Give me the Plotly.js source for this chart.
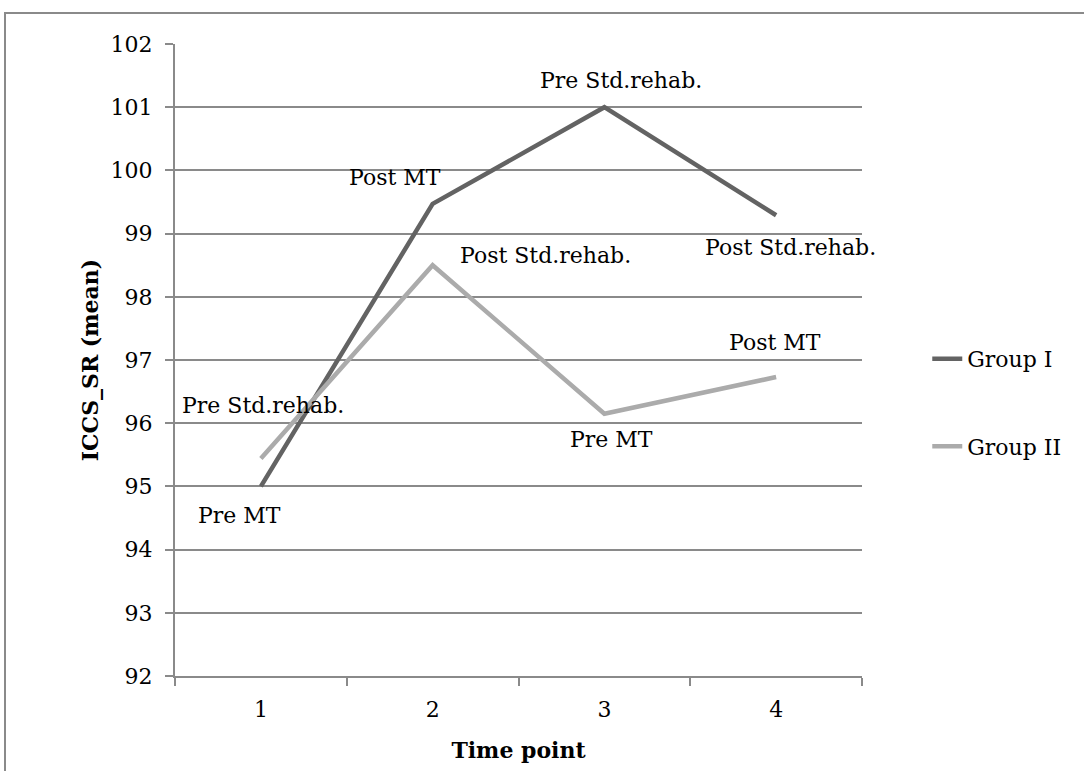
<!DOCTYPE html>
<html>
<head>
<meta charset="utf-8">
<script src="https://cdn.plot.ly/plotly-3.0.1.min.js"></script>
<style>
  html, body { margin: 0; padding: 0; background: #ffffff; overflow: hidden; }
  #wrap { position: relative; width: 1084px; height: 771px; }
  #chart { position: absolute; left: 0; top: 0; width: 1084px; height: 771px; }
  #frame { position: absolute; left: 4px; top: 12px; width: 1200px; height: 900px;
           border-left: 2px solid #8a8a8a; border-top: 2px solid #8a8a8a; pointer-events: none; }
</style>
</head>
<body>
<div id="wrap">
  <div id="chart"></div>
  <div id="frame"></div>
</div>
<script>
// ---- data ----
const timePoints = ['1', '2', '3', '4'];
const groupIName  = 'Group I';
const groupIIName = 'Group II';
const groupI  = [95.0, 99.47, 101.0, 99.29];
const groupII = [95.44, 98.5, 96.15, 96.73];
const groupILabels  = ['Pre MT', 'Post MT', 'Pre Std.rehab.', 'Post Std.rehab.'];
const groupIILabels = ['Pre Std.rehab.', 'Post Std.rehab.', 'Pre MT', 'Post MT'];
const yTitle = 'ICCS_SR (mean)';
const xTitle = 'Time point';

// ---- styling ----
const FONT = 'DejaVu Serif, Liberation Serif, serif';
const FS = 22;
const gridCol = '#8a8a8a';
const col1 = '#636363';
const col2 = '#ababab';

// label pixel offsets (xshift, yshift) per point
const off1 = [[-21, -29], [-38, 26], [17, 27], [14, -32]];
const off2 = [[2, 53], [113, 10], [7, -26], [-1, 35]];

const traces = [
  { type: 'scatter', mode: 'lines', name: groupIName, x: timePoints, y: groupI,
    line: { color: col1, width: 4.5 }, legendgroup: 'g1' },
  { type: 'scatter', mode: 'lines', name: groupIIName, x: timePoints, y: groupII,
    line: { color: col2, width: 4.5 }, legendgroup: 'g2' }
];

// annotations placed on the category axis by category index
const annotations = [];
groupI.forEach((v, i) => annotations.push({
  x: i, y: v, xref: 'x', yref: 'y', text: groupILabels[i], showarrow: false,
  xshift: off1[i][0], yshift: off1[i][1], font: { family: FONT, size: FS, color: '#000' }
}));
groupII.forEach((v, i) => annotations.push({
  x: i, y: v, xref: 'x', yref: 'y', text: groupIILabels[i], showarrow: false,
  xshift: off2[i][0], yshift: off2[i][1], font: { family: FONT, size: FS, color: '#000' }
}));

const layout = {
  width: 1084, height: 771,
  margin: { l: 175, r: 222, t: 44, b: 95, pad: 0 },
  paper_bgcolor: 'rgba(0,0,0,0)', plot_bgcolor: 'rgba(0,0,0,0)',
  font: { family: FONT, size: FS, color: '#000' },
  showlegend: true,
  legend: {
    x: 1.095, y: 0.535, xanchor: 'left', yanchor: 'top',
    traceorder: 'grouped', tracegroupgap: 56,
    font: { family: FONT, size: FS, color: '#000' },
    bgcolor: 'rgba(0,0,0,0)'
  },
  xaxis: {
    type: 'category', range: [-0.5, 3.5], tickson: 'boundaries',
    showgrid: false, zeroline: false,
    showline: true, linecolor: gridCol, linewidth: 2,
    ticks: 'outside', ticklen: 8, tickwidth: 2, tickcolor: gridCol,
    ticklabelstandoff: 13,
    tickfont: { family: FONT, size: FS, color: '#000' },
    automargin: true,
    title: { text: '<b>' + xTitle + '</b>', font: { family: FONT, size: FS, color: '#000' }, standoff: 21 },
    fixedrange: true
  },
  yaxis: {
    range: [92, 102], dtick: 1, tick0: 92,
    showgrid: true, gridcolor: gridCol, gridwidth: 2, zeroline: false,
    showline: true, linecolor: gridCol, linewidth: 2,
    ticks: 'outside', ticklen: 8, tickwidth: 2, tickcolor: gridCol,
    ticklabelstandoff: 8,
    tickfont: { family: FONT, size: FS, color: '#000' },
    automargin: true,
    title: { text: '<b>' + yTitle + '</b>', font: { family: FONT, size: FS, color: '#000' }, standoff: 6 },
    fixedrange: true
  },
  annotations: annotations
};

Plotly.newPlot('chart', traces, layout, { displayModeBar: false, staticPlot: true });
</script>
</body>
</html>
